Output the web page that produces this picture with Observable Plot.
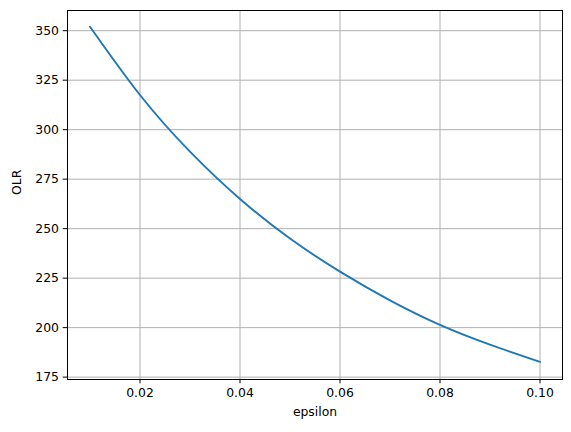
<!DOCTYPE html>
<html>
<head>
<meta charset="utf-8">
<script src="https://cdn.jsdelivr.net/npm/d3@7"></script>
<script src="https://cdn.jsdelivr.net/npm/@observablehq/plot@0.6"></script>
<style>
  html, body { margin: 0; padding: 0; background: #fff; }
  #chart { width: 571px; height: 432px; }
</style>
</head>
<body>
<div id="chart"></div>
<script>
const epsilon = [0.01, 0.02, 0.03, 0.04, 0.05, 0.06, 0.07, 0.08, 0.09, 0.10];
const olr = [352, 317.5, 288.9, 265, 245, 228.3, 213.8, 201.4, 191.4, 182.7];
const xTicks = [0.02, 0.04, 0.06, 0.08, 0.10];
const yTicks = [175, 200, 225, 250, 275, 300, 325, 350];
const xLabel = "epsilon";
const yLabel = "OLR";

const data = epsilon.map((e, i) => ({epsilon: e, olr: olr[i]}));

const chart = Plot.plot({
  width: 571,
  height: 432,
  marginLeft: 67,
  marginRight: 9,
  marginTop: 10,
  marginBottom: 53,
  style: {fontFamily: "DejaVu Sans", fontSize: "12.4px", color: "#000", background: "#fff"},
  x: {domain: [0.0055, 0.1045], ticks: xTicks, tickFormat: d3.format(".2f")},
  y: {domain: [173.8, 360.2], ticks: yTicks},
  marks: [
    Plot.gridX(xTicks, {stroke: "#b0b0b0", strokeOpacity: 1, strokeWidth: 1}),
    Plot.gridY(yTicks, {stroke: "#b0b0b0", strokeOpacity: 1, strokeWidth: 1}),
    Plot.line(data, {x: "epsilon", y: "olr", stroke: "#1f77b4", strokeWidth: 1.9, curve: "natural"}),
    Plot.frame({stroke: "#000", strokeWidth: 1}),
    Plot.axisX(xTicks, {tickSize: 4.3, tickPadding: 4.3, tickFormat: d3.format(".2f"), label: null, stroke: "#000", fill: "#000"}),
    Plot.axisY(yTicks, {tickSize: 4.3, tickPadding: 4.3, label: null, stroke: "#000", fill: "#000"}),
    Plot.text([xLabel], {text: d => d, frameAnchor: "bottom", dy: 36, fill: "#000"}),
    Plot.text([yLabel], {text: d => d, frameAnchor: "left", dx: -50, rotate: -90, fill: "#000"})
  ]
});
document.getElementById("chart").appendChild(chart);
</script>
</body>
</html>
